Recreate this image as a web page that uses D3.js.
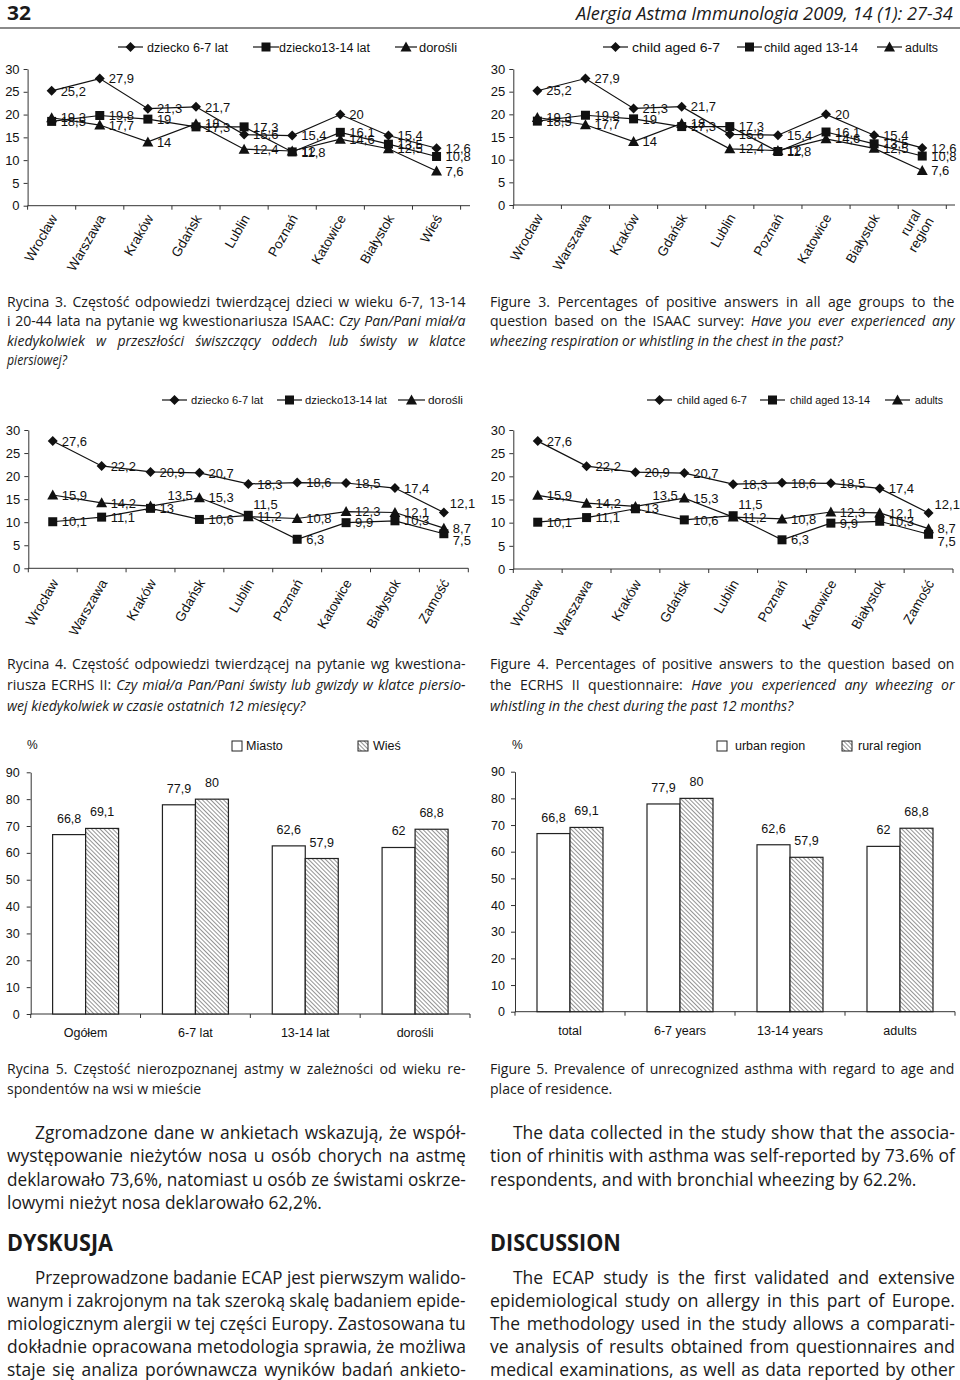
<!DOCTYPE html>
<html><head><meta charset="utf-8">
<script src="https://cdn.jsdelivr.net/npm/d3@7"></script>
<style>body{margin:0;background:#fff}svg{display:block}</style>
</head><body>
<svg id="page" width="960" height="1380"></svg>
<script>
// ---------- DATA ----------
const fig3CategoriesPl = ["Wrocław","Warszawa","Kraków","Gdańsk","Lublin","Poznań","Katowice","Białystok","Wieś"];
const fig3CategoriesEn = ["Wrocław","Warszawa","Kraków","Gdańsk","Lublin","Poznań","Katowice","Białystok","rural region"];
const fig3Child67   = [25.2, 27.9, 21.3, 21.7, 15.6, 15.4, 20, 15.4, 12.6];
const fig3Child1314 = [18.5, 19.8, 19, 17.3, 17.3, 11.8, 16.1, 13.5, 10.8];
const fig3Adults    = [19.3, 17.7, 14, 18, 12.4, 12, 14.6, 12.5, 7.6];

const fig4Categories = ["Wrocław","Warszawa","Kraków","Gdańsk","Lublin","Poznań","Katowice","Białystok","Zamość"];
const fig4Child67   = [27.6, 22.2, 20.9, 20.7, 18.3, 18.6, 18.5, 17.4, 12.1];
const fig4Child1314 = [10.1, 11.1, 13, 10.6, 11.5, 6.3, 9.9, 10.3, 7.5];
const fig4Adults    = [15.9, 14.2, 13.5, 15.3, 11.2, 10.8, 12.3, 12.1, 8.7];

const lineTicks = [0, 5, 10, 15, 20, 25, 30];
const seriesNamesPl = ["dziecko 6-7 lat", "dziecko13-14 lat", "dorośli"];
const seriesNamesEn = ["child aged 6-7", "child aged 13-14", "adults"];

const fig5CategoriesPl = ["Ogółem", "6-7 lat", "13-14 lat", "dorośli"];
const fig5CategoriesEn = ["total", "6-7 years", "13-14 years", "adults"];
const fig5Urban = [66.8, 77.9, 62.6, 62];
const fig5Rural = [69.1, 80, 57.9, 68.8];
const barTicks = [0, 10, 20, 30, 40, 50, 60, 70, 80, 90];
const fig5LegendPl = ["Miasto", "Wieś"];
const fig5LegendEn = ["urban region", "rural region"];

// ---------- HELPERS ----------
const svg = d3.select("#page");
const CHART_FONT = "'Liberation Sans', Arial, sans-serif";
const TEXT_FONT = "'Open Sans', 'Noto Sans', sans-serif";
const fmt = v => String(v).replace(".", ",");

const defs = svg.append("defs");
const pat = defs.append("pattern").attr("id", "hatch").attr("patternUnits", "userSpaceOnUse")
  .attr("width", 3).attr("height", 3).attr("patternTransform", "rotate(-45)");
pat.append("rect").attr("width", 3).attr("height", 3).attr("fill", "#fff");
pat.append("line").attr("x1", 0).attr("y1", 0).attr("x2", 0).attr("y2", 3)
  .attr("stroke", "#3a3a3a").attr("stroke-width", 1.1);

const markerPath = {
  diamond: "M0,-5L5,0L0,5L-5,0Z",
  square: "M-4.5,-4.5H4.5V4.5H-4.5Z",
  triangle: "M0,-5.5L5.5,4.5L-5.5,4.5Z"
};

// lines: [x, y, parts, targetWidth, justified]
function placeLines(lines, size, weight) {
  const items = lines.map(d => {
    const g = svg.append("g").attr("transform", `translate(${d[0]},${d[1]})`);
    const t = g.append("text").attr("font-family", TEXT_FONT).attr("font-size", size)
      .attr("font-weight", weight || "normal").attr("fill", "#1a1a1a");
    d[2].forEach(p => t.append("tspan").text(p[0]).attr("font-style", p[1] ? "italic" : "normal"));
    return {g, t, w: t.node().getComputedTextLength(), d};
  });
  const free = items.filter(it => !it.d[4]);
  const K = free.length ? d3.mean(free, it => it.d[3] / it.w) : 0.82;
  items.forEach(it => {
    const target = it.d[3];
    const sx = Math.min(K, target / it.w);
    if (it.d[4]) {
      const txt = it.d[2].map(p => p[0]).join("");
      const spaces = (txt.trim().match(/ /g) || []).length;
      const extra = (target / sx - it.w) / Math.max(spaces, 1);
      if (extra > 0) it.t.attr("word-spacing", extra);
    }
    it.g.attr("transform", `translate(${it.d[0]},${it.d[1]}) scale(${sx},1)`);
  });
}

function lineChart(cfg) {
  const g = svg.append("g");
  const x = d3.scaleBand().domain(cfg.cats).range(cfg.xRange);
  const y = d3.scaleLinear().domain([0, 30]).range(cfg.yRange);
  const cx = c => x(c) + x.bandwidth() / 2;
  const y0 = cfg.yRange[0];

  const ya = g.append("g").attr("transform", `translate(${cfg.xRange[0]},0)`)
    .call(d3.axisLeft(y).tickValues(lineTicks).tickSize(4).tickPadding(4).tickSizeOuter(0));
  ya.selectAll("text").attr("font-family", CHART_FONT).attr("font-size", cfg.tickSize).attr("fill", "#111");
  ya.selectAll("line,path").attr("stroke", "#333");
  g.append("line").attr("x1", cfg.xRange[0]).attr("x2", cfg.axisEnd).attr("y1", y0).attr("y2", y0).attr("stroke", "#333");
  const bounds = cfg.cats.map(c => x(c)).concat([cfg.xRange[1]]);
  g.selectAll(".xt").data(bounds).join("line")
    .attr("x1", d => d).attr("x2", d => d).attr("y1", y0).attr("y2", y0 + 4).attr("stroke", "#333");
  cfg.catLabels.forEach((lab, i) => {
    const c = cfg.cats[i];
    const t = g.append("text")
      .attr("transform", `translate(${cx(c) + 2},${y0 + cfg.catGap}) rotate(-60)`)
      .attr("text-anchor", "end").attr("font-family", CHART_FONT)
      .attr("font-size", cfg.catSize).attr("fill", "#111");
    if (lab === "rural region") {
      const w = lab.split(" ");
      t.append("tspan").attr("x", 0).attr("dy", "-0.25em").text(w[0]);
      t.append("tspan").attr("x", 0).attr("dy", "1.1em").text(w[1]);
    } else {
      t.attr("dy", "0.35em").text(lab);
    }
  });
  cfg.series.forEach(s => {
    const line = d3.line().x((d, i) => cx(cfg.cats[i])).y(d => y(d));
    g.append("path").attr("d", line(s.values)).attr("fill", "none").attr("stroke", "#111").attr("stroke-width", 1.2);
    g.selectAll(null).data(s.values).join("path")
      .attr("transform", (d, i) => `translate(${cx(cfg.cats[i])},${y(d)})`)
      .attr("d", markerPath[s.marker]).attr("fill", "#111");
  });
  cfg.series.forEach((s, si) => {
    s.values.forEach((v, i) => {
      const n = (cfg.nudges[si + "-" + i]) || [0, 0];
      g.append("text").attr("x", cx(cfg.cats[i]) + 9 + n[0]).attr("y", y(v) + n[1])
        .attr("dy", "0.36em").attr("font-family", CHART_FONT).attr("font-size", cfg.labelSize)
        .attr("fill", "#111").text(fmt(v));
    });
  });
  cfg.legend.forEach((L, i) => {
    const ly = cfg.legendY;
    g.append("line").attr("x1", L[0]).attr("x2", L[1]).attr("y1", ly).attr("y2", ly).attr("stroke", "#111").attr("stroke-width", 1.2);
    g.append("path").attr("transform", `translate(${(L[0] + L[1]) / 2},${ly})`).attr("d", markerPath[cfg.series[i].marker]).attr("fill", "#111");
    g.append("text").attr("x", L[2]).attr("y", ly).attr("dy", "0.36em")
      .attr("font-family", CHART_FONT).attr("font-size", cfg.legendSize).attr("fill", "#111")
      .attr("textLength", L[3]).attr("lengthAdjust", "spacingAndGlyphs")
      .text(cfg.legendNames[i]);
  });
}

function barChart(cfg) {
  const g = svg.append("g");
  const x = d3.scaleBand().domain(cfg.cats).range(cfg.xRange);
  const inner = d3.scaleBand().domain(["u", "r"]).range([0, 66]);
  const y = d3.scaleLinear().domain([0, 90]).range(cfg.yRange);
  const y0 = cfg.yRange[0];
  const ya = g.append("g").attr("transform", `translate(${cfg.xRange[0]},0)`)
    .call(d3.axisLeft(y).tickValues(barTicks).tickSize(4).tickPadding(cfg.tickPad).tickSizeOuter(0));
  ya.selectAll("text").attr("font-family", CHART_FONT).attr("font-size", 12.5).attr("fill", "#111");
  ya.selectAll("line,path").attr("stroke", "#333");
  g.append("line").attr("x1", cfg.xRange[0]).attr("x2", cfg.xRange[1]).attr("y1", y0).attr("y2", y0).attr("stroke", "#333");
  const bounds = cfg.cats.map(c => x(c)).concat([cfg.xRange[1]]);
  g.selectAll(".xt").data(bounds).join("line")
    .attr("x1", d => d).attr("x2", d => d).attr("y1", y0).attr("y2", y0 + 4).attr("stroke", "#333");
  const left = c => x(c) + x.bandwidth() / 2 - 33;
  [[cfg.urban, "u", "#fff"], [cfg.rural, "r", "url(#hatch)"]].forEach(([vals, k, fill]) => {
    g.selectAll(null).data(vals).join("rect")
      .attr("x", (d, i) => left(cfg.cats[i]) + inner(k)).attr("width", inner.bandwidth())
      .attr("y", d => y(d)).attr("height", d => y0 - y(d))
      .attr("fill", fill).attr("stroke", "#222").attr("stroke-width", 1.2);
    g.selectAll(null).data(vals).join("text")
      .attr("x", (d, i) => left(cfg.cats[i]) + inner(k) + inner.bandwidth() / 2)
      .attr("y", d => y(d) - 12).attr("text-anchor", "middle")
      .attr("font-family", CHART_FONT).attr("font-size", 12.5).attr("fill", "#111").text(d => fmt(d));
  });
  cfg.catLabels.forEach((lab, i) => {
    g.append("text").attr("x", x(cfg.cats[i]) + x.bandwidth() / 2).attr("y", y0 + 23)
      .attr("text-anchor", "middle").attr("font-family", CHART_FONT).attr("font-size", 12.5)
      .attr("fill", "#111").text(lab);
  });
  g.append("text").attr("x", cfg.pctX).attr("y", 749).attr("font-family", CHART_FONT).attr("font-size", 12).attr("fill", "#111").text("%");
  cfg.legend.forEach((L, i) => {
    g.append("rect").attr("x", L[0]).attr("y", 741).attr("width", 10).attr("height", 10)
      .attr("fill", i === 0 ? "#fff" : "url(#hatch)").attr("stroke", "#222").attr("stroke-width", 1);
    g.append("text").attr("x", L[1]).attr("y", 750).attr("font-family", CHART_FONT).attr("font-size", 12.5)
      .attr("fill", "#111").text(cfg.legendNames[i]);
  });
}

// ---------- HEADER ----------
placeLines([[7, 20, [["32", false]], 24, false]], 19, "bold");
placeLines([[576, 20, [["Alergia Astma Immunologia 2009, 14 (1): 27-34", true]], 377, false]], 18.5);
svg.append("rect").attr("x", 0).attr("y", 27).attr("width", 960).attr("height", 2).attr("fill", "#8a8a8a");

// ---------- FIGURE 3 ----------
const nudges3 = {};
const series3 = [{values: fig3Child67, marker: "diamond"}, {values: fig3Child1314, marker: "square"}, {values: fig3Adults, marker: "triangle"}];
lineChart({cats: fig3CategoriesPl, catLabels: fig3CategoriesPl, xRange: [27.6, 460.6], axisEnd: 470, yRange: [205.7, 69],
  series: series3, nudges: nudges3, tickSize: 13, labelSize: 13, catSize: 13.5, catGap: 10, legendSize: 12.5, legendY: 47,
  legendNames: seriesNamesPl, legend: [[118, 143, 147, 81], [253, 279, 279, 91], [395, 417, 419, 38]]});
lineChart({cats: fig3CategoriesPl, catLabels: fig3CategoriesEn, xRange: [513.3, 946.3], axisEnd: 955, yRange: [205, 69],
  series: series3, nudges: nudges3, tickSize: 13, labelSize: 13, catSize: 13.5, catGap: 10, legendSize: 12.5, legendY: 47,
  legendNames: seriesNamesEn, legend: [[603, 628, 632, 88], [737, 762, 764, 94], [877, 902, 905, 33]]});

// ---------- FIGURE 4 ----------
const nudges4 = {"2-2": [8, -11], "1-4": [-4, -11], "0-8": [-3, -9], "1-8": [0, 7]};
const series4 = [{values: fig4Child67, marker: "diamond"}, {values: fig4Child1314, marker: "square"}, {values: fig4Adults, marker: "triangle"}];
lineChart({cats: fig4Categories, catLabels: fig4Categories, xRange: [28.3, 468.3], axisEnd: 468.3, yRange: [568.3, 430],
  series: series4, nudges: nudges4, tickSize: 13, labelSize: 13, catSize: 13.5, catGap: 12, legendSize: 11, legendY: 400,
  legendNames: seriesNamesPl, legend: [[162, 187, 191, 72], [277, 302, 305, 82], [398, 425, 428, 35]]});
lineChart({cats: fig4Categories, catLabels: fig4Categories, xRange: [513.3, 953], axisEnd: 953, yRange: [569, 430],
  series: series4, nudges: nudges4, tickSize: 13, labelSize: 13, catSize: 13.5, catGap: 12, legendSize: 11, legendY: 400,
  legendNames: seriesNamesEn, legend: [[647, 672, 677, 70], [760, 785, 790, 80], [885, 910, 915, 28]]});

// ---------- FIGURE 5 ----------
barChart({cats: fig5CategoriesPl, catLabels: fig5CategoriesPl, xRange: [30.7, 470], yRange: [1014, 772.3], tickPad: 7,
  urban: fig5Urban, rural: fig5Rural, pctX: 27, legendNames: fig5LegendPl, legend: [[232, 246], [358, 373]]});
barChart({cats: fig5CategoriesEn, catLabels: fig5CategoriesEn, xRange: [515, 955], yRange: [1011.7, 771.7], tickPad: 6,
  urban: fig5Urban, rural: fig5Rural, pctX: 512, legendNames: fig5LegendEn, legend: [[717, 735], [842, 858]]});

// ---------- CAPTIONS & BODY TEXT ----------
const L = 7, R = 490, LW = 459, RW = 465;
placeLines([
  [L, 307, [["Rycina 3. Częstość odpowiedzi twierdzącej dzieci w wieku 6-7, 13-14", false]], LW, true],
  [L, 326, [["i 20-44 lata na pytanie wg kwestionariusza ISAAC: ", false], ["Czy Pan/Pani miał/a", true]], LW, true],
  [L, 346, [["kiedykolwiek w przeszłości świszczący oddech lub świsty w klatce", true]], LW, true],
  [L, 365, [["piersiowej?", true]], 60, false],
  [R, 307, [["Figure 3. Percentages of positive answers in all age groups to the", false]], RW, true],
  [R, 326, [["question based on the ISAAC survey: ", false], ["Have you ever experienced any", true]], RW, true],
  [R, 346, [["wheezing respiration or whistling in the chest in the past?", true]], 353, false],
  [L, 669, [["Rycina 4. Częstość odpowiedzi twierdzącej na pytanie wg kwestiona-", false]], LW, true],
  [L, 690, [["riusza ECRHS II: ", false], ["Czy miał/a Pan/Pani świsty lub gwizdy w klatce piersio-", true]], LW, true],
  [L, 711, [["wej kiedykolwiek w czasie ostatnich 12 miesięcy?", true]], 328, false],
  [R, 669, [["Figure 4. Percentages of positive answers to the question based on", false]], RW, true],
  [R, 690, [["the ECRHS II questionnaire: ", false], ["Have you experienced any wheezing or", true]], RW, true],
  [R, 711, [["whistling in the chest during the past 12 months?", true]], 305, false],
  [L, 1074, [["Rycina 5. Częstość nierozpoznanej astmy w zależności od wieku re-", false]], LW, true],
  [L, 1094, [["spondentów na wsi w mieście", false]], 198, false],
  [R, 1074, [["Figure 5. Prevalence of unrecognized asthma with regard to age and", false]], RW, true],
  [R, 1094, [["place of residence.", false]], 123, false]
], 14.5);

placeLines([
  [35, 1139, [["Zgromadzone dane w ankietach wskazują, że współ-", false]], 431, true],
  [L, 1162, [["występowanie nieżytów nosa u osób chorych na astmę", false]], LW, true],
  [L, 1186, [["deklarowało 73,6%, natomiast u osób ze świstami oskrze-", false]], LW, true],
  [L, 1209, [["lowymi nieżyt nosa deklarowało 62,2%.", false]], 315, false],
  [513, 1139, [["The data collected in the study show that the associa-", false]], 442, true],
  [R, 1162, [["tion of rhinitis with asthma was self-reported by 73.6% of", false]], RW, true],
  [R, 1186, [["respondents, and with bronchial wheezing by 62.2%.", false]], 428, false],
  [35, 1284, [["Przeprowadzone badanie ECAP jest pierwszym walido-", false]], 431, true],
  [L, 1307, [["wanym i zakrojonym na tak szeroką skalę badaniem epide-", false]], LW, true],
  [L, 1330, [["miologicznym alergii w tej części Europy. Zastosowana tu", false]], LW, true],
  [L, 1353, [["dokładnie opracowana metodologia sprawia, że możliwa", false]], LW, true],
  [L, 1376, [["staje się analiza porównawcza wyników badań ankieto-", false]], LW, true],
  [513, 1284, [["The ECAP study is the first validated and extensive", false]], 442, true],
  [R, 1307, [["epidemiological study on allergy in this part of Europe.", false]], RW, true],
  [R, 1330, [["The methodology used in the study allows a comparati-", false]], RW, true],
  [R, 1353, [["ve analysis of results obtained from questionnaires and", false]], RW, true],
  [R, 1376, [["medical examinations, as well as data reported by other", false]], RW, true]
], 17.5);

placeLines([[L, 1251, [["DYSKUSJA", false]], 106, false]], 23, "bold");
placeLines([[R, 1251, [["DISCUSSION", false]], 131, false]], 23, "bold");
</script>
</body></html>
